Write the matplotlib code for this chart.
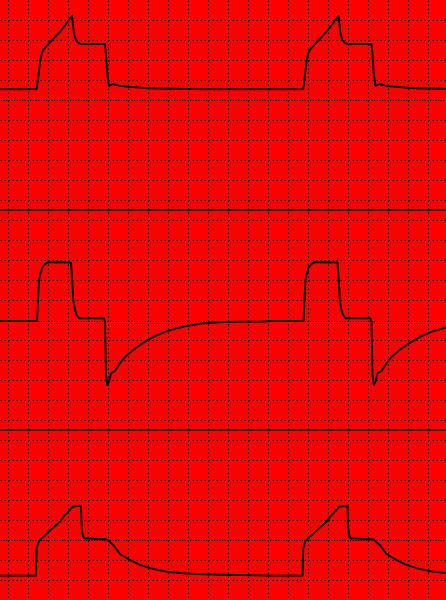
import numpy as np
import matplotlib
matplotlib.use("Agg")
import matplotlib.pyplot as plt

# one breath, local time in seconds (0.01 s per screen pixel)
breath_period = 2.665
breath_starts = [0.0, 2.665]

# pressure, cmH2O
t_pressure = [0, 0.367, 0.377, 0.387, 0.40, 0.417, 0.433, 0.467, 0.50, 0.60, 0.667, 0.71,
              0.72, 0.74, 0.76, 0.78, 0.81, 1.05, 1.06, 1.07, 1.077, 1.09, 1.13, 1.20,
              1.30, 1.50, 2.00, 2.665]
pressure = [2.7, 2.7, 4.6, 6.7, 9.6, 11.7, 12.5, 13.5, 14.4, 17.1, 19.2, 20.8,
            21.0, 16.5, 15.0, 14.3, 14.0, 14.0, 11.3, 7.5, 5.8, 3.5, 4.0, 3.5,
            3.3, 2.9, 2.7, 2.7]

# flow, L/min
t_flow = [0, 0.37, 0.38, 0.39, 0.40, 0.42, 0.45, 0.48, 0.71, 0.727, 0.733, 0.75, 0.767,
          0.79, 1.04, 1.05, 1.06, 1.073, 1.09, 1.11, 1.15, 1.20, 1.25, 1.33, 1.43,
          1.53, 1.67, 1.83, 2.03, 2.23, 2.665]
flow = [0, 0, 21, 41, 46, 53, 57, 58.7, 58.5, 33, 21, 11, 6,
        2.7, 2.7, -0.7, -54, -64, -60.7, -52.3, -50, -42.3, -36, -29, -22,
        -16, -10, -5.7, -2.3, -1, -0.5]

# volume, mL
t_volume = [0, 0.36, 0.367, 0.377, 0.39, 0.417, 0.50, 0.60, 0.65, 0.70, 0.727, 0.81,
            0.817, 0.827, 0.84, 1.067, 1.133, 1.20, 1.30, 1.40, 1.533, 1.667, 1.833,
            2.033, 2.23, 2.665]
volume = [-178, -178, -41.5, -25, -5, 8.5, 46.5, 91.5, 125, 150, 166.5, 171.5,
          58.5, 25, 8.5, 3.5, -25, -70, -100, -125, -145, -158.5, -166.5,
          -171.5, -173.5, -177.5]

W, H = 446, 600
fig = plt.figure(figsize=(W / 100, H / 100), dpi=100)
fig.patch.set_facecolor("#ff0000")

# screen grid, in pixels
bg = fig.add_axes([0, 0, 1, 1])
bg.set_xlim(0, W)
bg.set_ylim(H, 0)
bg.axis("off")
dot = (0, (1.3, 2.3))
for x in range(8, W, 20):
    bg.plot([x, x], [0, H], color="black", lw=0.8, ls=dot)
for y in range(20, H, 20):
    if y in (100, 320, 540):
        continue
    bg.plot([0, W], [y, y], color="black", lw=0.8, ls=dot)
for y in (210, 430):
    bg.plot([0, W], [y, y], color="black", lw=1.2)

# panels: (top px, bottom px, t, values, ylim)
panels = [
    (0, 210, t_pressure, pressure, (-27.5, 25)),
    (210, 430, t_flow, flow, (-109, 111)),
    (430, 600, t_volume, volume, (-300, 550)),
]

for top, bottom, t, vals, ylim in panels:
    ax = fig.add_axes([0, (H - bottom) / H, 1, (bottom - top) / H])
    ax.set_facecolor("none")
    ax.set_xlim(0, W / 100)
    ax.set_ylim(*ylim)
    ax.axis("off")
    ax.axhline(0, color="black", lw=0.8, ls=(0, (1.2, 1.2)))
    for t0 in breath_starts:
        ax.plot(np.array(t) + t0, vals, color="black", lw=1.4)

fig.savefig("out.png", dpi=100, facecolor=fig.get_facecolor())
